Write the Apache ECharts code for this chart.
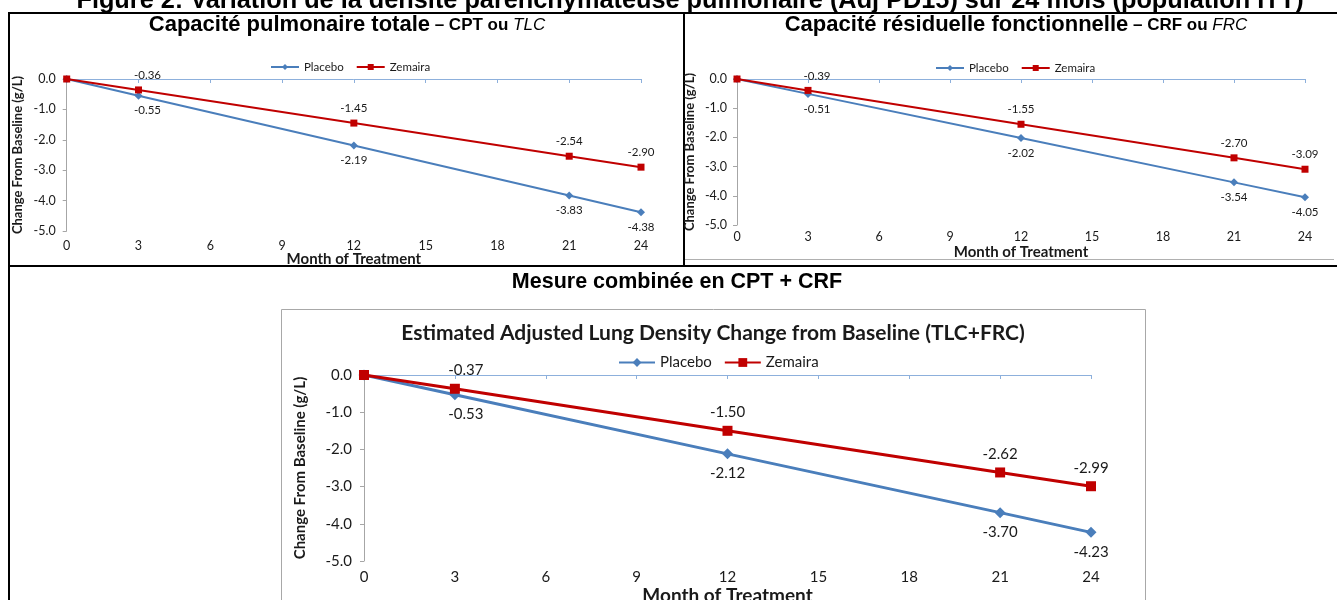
<!DOCTYPE html>
<html>
<head>
<meta charset="utf-8">
<script src="https://cdn.jsdelivr.net/npm/echarts@6/dist/echarts.min.js"></script>
<style>
  html, body { margin: 0; padding: 0; background: #fff; }
  #chart { width: 1337px; height: 600px; }
</style>
</head>
<body>
<div id="chart"></div>
<script>
// ---- Data ----
const months = [0, 3, 12, 21, 24];
const seriesNames = ['Placebo', 'Zemaira'];
const tlcPlacebo = [0, -0.55, -2.19, -3.83, -4.38];
const tlcZemaira = [0, -0.36, -1.45, -2.54, -2.90];
const frcPlacebo = [0, -0.51, -2.02, -3.54, -4.05];
const frcZemaira = [0, -0.39, -1.55, -2.70, -3.09];
const combPlacebo = [0, -0.53, -2.12, -3.70, -4.23];
const combZemaira = [0, -0.37, -1.50, -2.62, -2.99];
const xMin = 0, xMax = 24, xStep = 3;
const yMin = -5, yMax = 0, yStep = 1;

const figureTitle = 'Figure 2: Variation de la densité parenchymateuse pulmonaire (Adj PD15) sur 24 mois (population ITT)';
const headTLC = ['Capacité pulmonaire totale', ' – CPT ou ', 'TLC'];
const headFRC = ['Capacité résiduelle fonctionnelle', ' – CRF ou ', 'FRC'];
const headComb = 'Mesure combinée en CPT + CRF';
const combTitle = 'Estimated Adjusted Lung Density Change from Baseline (TLC+FRC)';
const xName = 'Month of Treatment';
const yName = 'Change From Baseline (g/L)';

// ---- Styles ----
const BLUE = '#4A7EBB';
const RED = '#C00000';
const FONT = 'Lato, "Open Sans", sans-serif';
const ARIAL = '"Liberation Sans", Arial, sans-serif';

function toPairs(arr, s) {
  return months.map((m, i) => {
    const item = { value: [m, arr[i]] };
    if (i === 1) item.label = { offset: [s.firstOffset, 0] };
    return item;
  });
}

function makeAxes(gi, s) {
  const x = {
    type: 'value', gridIndex: gi, min: xMin, max: xMax, interval: xStep,
    name: xName, nameLocation: 'middle', nameGap: s.xNameGap, nameMoveOverlap: false,
    nameTextStyle: { fontFamily: FONT, fontWeight: 'bold', fontSize: s.nameSize, color: '#1a1a1a' },
    axisLine: { lineStyle: { color: '#8DB0DC', width: 1 } },
    axisTick: { show: true, length: 4, lineStyle: { color: '#8DB0DC' } },
    axisLabel: { fontFamily: FONT, fontSize: s.tickSize, color: '#1a1a1a', margin: s.xLabelMargin },
    splitLine: { show: false }
  };
  const y = {
    type: 'value', gridIndex: gi, min: yMin, max: yMax, interval: yStep,
    name: yName, nameLocation: 'middle', nameRotate: 90, nameGap: s.yNameGap, nameMoveOverlap: false,
    nameTextStyle: { fontFamily: FONT, fontWeight: 'bold', fontSize: s.yNameSize, color: '#1a1a1a' },
    axisLine: { show: true, lineStyle: { color: '#A6A6A6', width: 1 } },
    axisTick: { show: true, length: 4, lineStyle: { color: '#A6A6A6' } },
    axisLabel: { fontFamily: FONT, fontSize: s.tickSize, color: '#1a1a1a', margin: s.yLabelMargin,
                 formatter: v => v.toFixed(1) },
    splitLine: { show: false }
  };
  return [x, y];
}

function makeSeries(gi, placebo, zemaira, s) {
  const lab = (pos, d) => ({
    show: true, position: pos, distance: d,
    fontFamily: FONT, fontSize: s.labelSize, color: '#1a1a1a',
    formatter: p => p.dataIndex === 0 ? '' : p.value[1].toFixed(2)
  });
  return [
    { name: seriesNames[0], type: 'line', xAxisIndex: gi, yAxisIndex: gi,
      data: toPairs(placebo, s), symbol: 'diamond', symbolSize: s.diamond,
      lineStyle: { color: BLUE, width: s.lw }, itemStyle: { color: BLUE },
      label: lab('bottom', s.labelDistB), z: 2, animation: false },
    { name: seriesNames[1], type: 'line', xAxisIndex: gi, yAxisIndex: gi,
      data: toPairs(zemaira, s), symbol: 'rect', symbolSize: s.square,
      lineStyle: { color: RED, width: s.lw }, itemStyle: { color: RED },
      label: lab('top', s.labelDistT), z: 3, animation: false }
  ];
}

const small = { xNameGap: 21, nameSize: 15, tickSize: 12.5, xLabelMargin: 8, yNameGap: 42, yNameSize: 13,
                yLabelMargin: 11, labelDistT: 5, labelDistB: 5, labelSize: 11.5, diamond: 8, square: 7, lw: 2,
                legendSize: 11.5, firstOffset: 9 };
const small2 = Object.assign({}, small, { xNameGap: 20, xLabelMargin: 5, yNameGap: 40.5, yLabelMargin: 10 });
const big = { xNameGap: 25, nameSize: 19, tickSize: 15, xLabelMargin: 9, yNameGap: 56, yNameSize: 15,
              yLabelMargin: 12, labelDistT: 6, labelDistB: 6.5, labelSize: 15, diamond: 11, square: 10, lw: 3,
              legendSize: 15, firstOffset: 11 };

const a0 = makeAxes(0, small), a1 = makeAxes(1, small2), a2 = makeAxes(2, big);

function legend(left, top, s, w) {
  return {
    data: seriesNames, left: left, top: top, itemWidth: w, itemHeight: s.legendSize - 4,
    itemGap: 12, padding: 0, selectedMode: false,
    textStyle: { fontFamily: FONT, fontSize: s.legendSize, color: '#1a1a1a' }
  };
}

const line = (x1, y1, x2, y2, color, w) => ({
  type: 'line', shape: { x1, y1, x2, y2 }, silent: true,
  style: { stroke: color, lineWidth: w }
});

function header(x, y, parts) {
  return {
    type: 'text', x: x, y: y, silent: true,
    style: {
      text: '{a|' + parts[0] + '}{b|' + parts[1] + '}{c|' + parts[2] + '}',
      align: 'center', verticalAlign: 'middle',
      rich: {
        a: { fontFamily: ARIAL, fontWeight: 'bold', fontSize: 22, fill: '#000' },
        b: { fontFamily: ARIAL, fontWeight: 'bold', fontSize: 17, fill: '#000' },
        c: { fontFamily: ARIAL, fontStyle: 'italic', fontSize: 17, fill: '#000' }
      }
    }
  };
}

const gridBase = { outerBoundsMode: 'none', containLabel: false };
const option = {
  backgroundColor: '#fff',
  animation: false,
  grid: [
    Object.assign({ left: 66.7, top: 79, width: 574.3, height: 152 }, gridBase),
    Object.assign({ left: 737, top: 79, width: 568, height: 146 }, gridBase),
    Object.assign({ left: 364, top: 375, width: 727, height: 186 }, gridBase)
  ],
  xAxis: [a0[0], a1[0], a2[0]],
  yAxis: [a0[1], a1[1], a2[1]],
  legend: [
    legend(270, 61, small, 28),
    legend(935, 62, small, 28),
    legend(618, 355, big, 36)
  ],
  series: [].concat(
    makeSeries(0, tlcPlacebo, tlcZemaira, small),
    makeSeries(1, frcPlacebo, frcZemaira, small2),
    makeSeries(2, combPlacebo, combZemaira, big)
  ),
  graphic: [
    // figure title (cut off at the top)
    { type: 'text', x: 690, y: 1, silent: true,
      style: { text: figureTitle, align: 'center', verticalAlign: 'middle',
               fontFamily: ARIAL, fontWeight: 'bold', fontSize: 25.3, fill: '#000' } },
    // table borders
    line(8, 13, 1337, 13, '#000', 2),
    line(9, 12, 9, 600, '#000', 2),
    line(684, 13, 684, 266, '#000', 2),
    line(8, 266, 1337, 266, '#000', 2),
    // chart frames
    line(685, 259.5, 1334, 259.5, '#B0B0B0', 1),
    { type: 'rect', shape: { x: 281.5, y: 309.5, width: 864, height: 320 }, silent: true,
      style: { fill: 'none', stroke: '#A8A8A8', lineWidth: 1 } },
    header(347, 25, headTLC),
    header(1016, 25, headFRC),
    { type: 'text', x: 677, y: 282, silent: true,
      style: { text: headComb, align: 'center', verticalAlign: 'middle',
               fontFamily: ARIAL, fontWeight: 'bold', fontSize: 21.5, fill: '#000' } },
    { type: 'text', x: 713, y: 333, silent: true,
      style: { text: combTitle, align: 'center', verticalAlign: 'middle',
               fontFamily: FONT, fontWeight: 'bold', fontSize: 21, fill: '#1a1a1a' } }
  ]
};

const chart = echarts.init(document.getElementById('chart'), null, { renderer: 'canvas' });
chart.setOption(option);
</script>
</body>
</html>
